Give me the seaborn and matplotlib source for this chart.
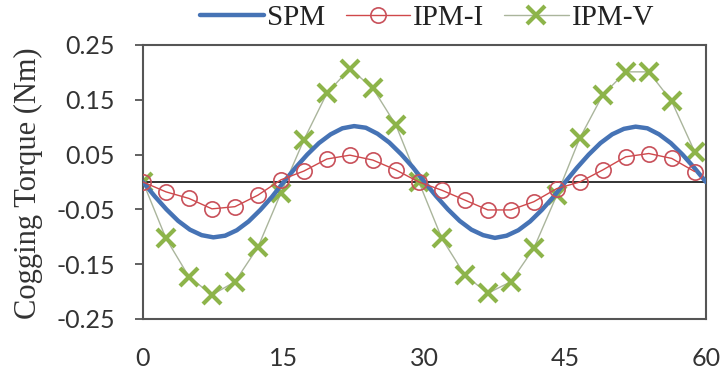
import numpy as np
import pandas as pd
import matplotlib
matplotlib.use("Agg")
import matplotlib.pyplot as plt
import seaborn as sns

# ---- data ----
spm_x = [0, 1.25, 2.5, 3.75, 5, 6.25, 7.5, 8.75, 10, 11.25, 12.5, 13.75, 15,
         16.25, 17.5, 18.75, 20, 21.25, 22.5, 23.75, 25, 26.25, 27.5, 28.75, 30,
         31.25, 32.5, 33.75, 35, 36.25, 37.5, 38.75, 40, 41.25, 42.5, 43.75, 45,
         46.25, 47.5, 48.75, 50, 51.25, 52.5, 53.75, 55, 56.25, 57.5, 58.75, 60]
spm_y = [0.0, -0.026, -0.050, -0.071, -0.087, -0.097, -0.101, -0.098, -0.088, -0.072, -0.051, -0.027, 0.0,
         0.026, 0.050, 0.071, 0.087, 0.098, 0.102, 0.099, 0.088, 0.072, 0.051, 0.027, 0.0,
         -0.026, -0.050, -0.071, -0.087, -0.097, -0.102, -0.098, -0.088, -0.072, -0.051, -0.027, 0.0,
         0.026, 0.050, 0.071, 0.087, 0.097, 0.101, 0.098, 0.087, 0.071, 0.050, 0.026, 0.0]

ipm_x = [0, 2.45, 4.9, 7.35, 9.8, 12.25, 14.7, 17.15, 19.6, 22.05, 24.5, 26.95, 29.4,
         31.85, 34.3, 36.75, 39.2, 41.65, 44.1, 46.55, 49.0, 51.45, 53.9, 56.35, 58.8]
ipm_i = [0.0, -0.018, -0.030, -0.049, -0.045, -0.024, 0.004, 0.020, 0.042, 0.049, 0.040, 0.022, 0.0,
         -0.015, -0.033, -0.051, -0.051, -0.036, -0.012, 0.0, 0.022, 0.046, 0.052, 0.043, 0.019]
ipm_v = [0.0, -0.103, -0.173, -0.206, -0.182, -0.119, -0.020, 0.077, 0.162, 0.207, 0.171, 0.104, 0.0,
         -0.103, -0.170, -0.203, -0.182, -0.121, -0.024, 0.080, 0.159, 0.201, 0.201, 0.147, 0.055]

x_ticks = [0, 15, 30, 45, 60]
y_ticks = [-0.25, -0.15, -0.05, 0.05, 0.15, 0.25]
y_tick_labels = ["-0.25", "-0.15", "-0.05", "0.05", "0.15", "0.25"]
series_names = ["SPM", "IPM-I", "IPM-V"]
y_label = "Cogging Torque (Nm)"

# ---- style ----
sns.set_theme(style="white")
plt.rcParams["font.family"] = ["Lato", "DejaVu Sans"]

fig = plt.figure(figsize=(7.23, 3.80), dpi=100)
ax = fig.add_axes([143 / 723, 1 - 319 / 380, (706 - 143) / 723, (319 - 45) / 380])

df_spm = pd.DataFrame({"x": spm_x, "y": spm_y})
df_ipm = pd.DataFrame({"x": ipm_x, "I": ipm_i, "V": ipm_v})

ax.axhline(0, color="#222222", lw=1.3, zorder=1)

sns.lineplot(data=df_ipm, x="x", y="V", ax=ax, sort=False, estimator=None,
             color="#aab59c", lw=1.0, marker="x", markersize=13.5,
             markeredgecolor="#8db44a", markeredgewidth=3.0, zorder=2,
             label=series_names[2])
sns.lineplot(data=df_spm, x="x", y="y", ax=ax, sort=False, estimator=None,
             color="#4673b5", lw=3.2, zorder=3, label=series_names[0])
sns.lineplot(data=df_ipm, x="x", y="I", ax=ax, sort=False, estimator=None,
             color="#d0484a", lw=1.0, marker="o", markersize=11,
             markerfacecolor="none", markeredgecolor="#c8505a",
             markeredgewidth=1.2, zorder=4, label=series_names[1])

ax.set_xlim(0, 60)
ax.set_ylim(-0.25, 0.25)
ax.set_xticks(x_ticks)
ax.set_xticklabels([str(v) for v in x_ticks])
ax.set_yticks(y_ticks)
ax.set_yticklabels(y_tick_labels)
ax.set_xlabel("")

for s in ax.spines.values():
    s.set_color("#555555")
    s.set_linewidth(1.5)
    s.set_visible(True)

ax.tick_params(axis="y", which="major", direction="out", length=6, width=1.3,
               color="#555555", pad=14, labelsize=18, labelcolor="#333333", left=True)
ax.tick_params(axis="x", which="major", length=0, pad=20, labelsize=18,
               labelcolor="#333333", bottom=False)

ax.set_ylabel(y_label, family=["Liberation Serif", "DejaVu Serif"], fontsize=22,
              color="#333333")
ax.yaxis.set_label_coords(-0.178, 0.495)

handles, labels = ax.get_legend_handles_labels()
order = [labels.index(n) for n in series_names]
ax.legend_.remove()
leg = fig.legend([handles[i] for i in order], [labels[i] for i in order],
                 loc="center", bbox_to_anchor=(427 / 723, 1 - 18 / 380),
                 ncol=3, frameon=False, handlelength=2.2, handletextpad=0.1,
                 columnspacing=0.7, numpoints=1,
                 prop={"family": "Liberation Serif", "size": 21})
for t in leg.get_texts():
    t.set_color("#222222")

fig.savefig("out.png", dpi=100)
